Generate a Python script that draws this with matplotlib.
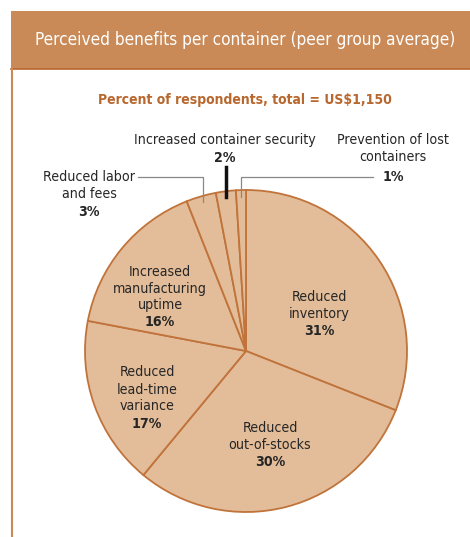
import matplotlib.pyplot as plt
from matplotlib.patches import Rectangle

# datos del grafico
labels = ['Reduced\ninventory', 'Reduced\nout-of-stocks', 'Reduced\nlead-time\nvariance',
          'Increased\nmanufacturing\nuptime', 'Reduced labor\nand fees',
          'Increased container security', 'Prevention of lost\ncontainers']
values = [31, 30, 17, 16, 3, 2, 1]

title = 'Perceived benefits per container (peer group average)'
subtitle = 'Percent of respondents, total = US$1,150'

fill = '#E3BD99'
edge = '#C0733A'
band = '#C98A57'
sub_col = '#B8682F'

plt.rcParams['font.family'] = ['DejaVu Sans']
plt.rcParams['font.stretch'] = 'condensed'
cond = 'condensed'

W, H = 470, 537
fig = plt.figure(figsize=(W / 100, H / 100), dpi=100)
ax = fig.add_axes([0, 0, 1, 1])

def Y(y):
    return H - y

cx, cy, r = 246, 351, 161
wedges, _ = ax.pie(values, startangle=90, counterclock=False, center=(cx, Y(cy)), radius=r,
                   colors=[fill] * len(values),
                   wedgeprops=dict(edgecolor=edge, linewidth=1.3))
ax.set_xlim(0, W)
ax.set_ylim(0, H)
ax.set_aspect('auto')
ax.axis('off')

# cabecera
ax.add_patch(Rectangle((11, Y(69)), W - 11, 58, facecolor=band, edgecolor='none'))
ax.plot([11, W], [Y(69), Y(69)], color='#B8662C', lw=1.2)
ax.plot([12, 12], [Y(69), 0], color='#C98A57', lw=1.5)
ax.text(245, Y(40), title, color='white', fontsize=12.3, ha='center', va='center', fontstretch=cond)
ax.text(245, Y(100), subtitle, color=sub_col, fontsize=10, fontweight='bold',
        ha='center', va='center', fontstretch=cond)

fs = 10.2
txt = '#262626'
pct = [f'{v}%' for v in values]
inside = {0: (319, 306), 1: (270, 437), 2: (147, 390), 3: (160, 289)}
for i, (x, y) in inside.items():
    n = labels[i].count('\n') + 1
    top = y - (n * 17) / 2
    for k, line in enumerate(labels[i].split('\n')):
        ax.text(x, Y(top + 8 + 17 * k), line, fontsize=fs, ha='center', va='center',
                color=txt, fontstretch=cond)
    ax.text(x, Y(top + 8 + 17 * n), pct[i], fontsize=fs, ha='center', va='center',
            color=txt, fontweight='bold', fontstretch=cond)

# etiquetas de fuera
ax.text(89, Y(177), 'Reduced labor', fontsize=fs, ha='center', va='center', color=txt, fontstretch=cond)
ax.text(89, Y(194), 'and fees', fontsize=fs, ha='center', va='center', color=txt, fontstretch=cond)
ax.text(89, Y(212), pct[4], fontsize=fs, ha='center', va='center', color=txt,
        fontweight='bold', fontstretch=cond)
ax.plot([138, 203, 203], [Y(177), Y(177), Y(202)], color='#888888', lw=0.9)

ax.text(225, Y(140), labels[5], fontsize=fs, ha='center', va='center', color=txt, fontstretch=cond)
ax.text(225, Y(158), pct[5], fontsize=fs, ha='center', va='center', color=txt,
        fontweight='bold', fontstretch=cond)
ax.plot([226, 226], [Y(167), Y(197)], color='#111111', lw=2.5)

lost = labels[6].split('\n')
ax.text(393, Y(140), lost[0], fontsize=fs, ha='center', va='center', color=txt, fontstretch=cond)
ax.text(393, Y(157), lost[1], fontsize=fs, ha='center', va='center', color=txt, fontstretch=cond)
ax.text(393, Y(177), pct[6], fontsize=fs, ha='center', va='center', color=txt,
        fontweight='bold', fontstretch=cond)
ax.plot([241, 241, 373], [Y(197), Y(177), Y(177)], color='#888888', lw=0.9)

fig.savefig('out.png', dpi=100, facecolor='white')
